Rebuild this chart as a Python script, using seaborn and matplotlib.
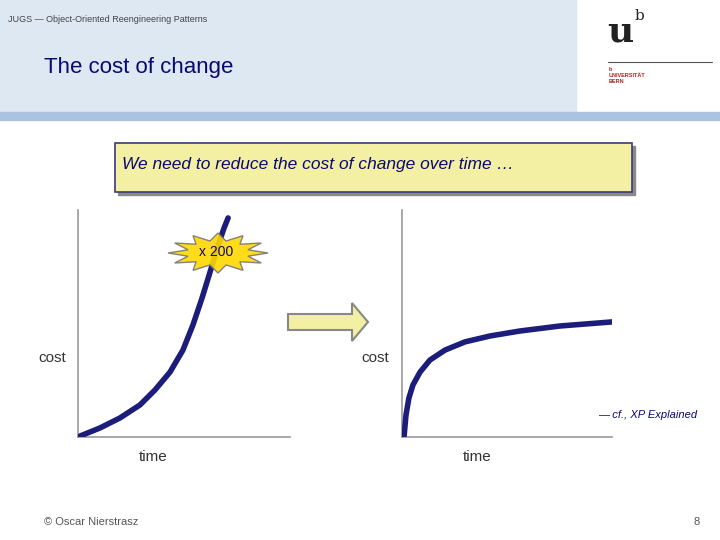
import numpy as np
import matplotlib.pyplot as plt
import seaborn as sns
from matplotlib.patches import Rectangle, Polygon

# left curve: cost explodes over time
left_time = [0.09, 1.04, 1.98, 2.92, 3.63, 4.34, 4.95, 5.42, 5.85, 6.23, 6.60, 6.89, 7.08]
left_cost = [0.4, 4.0, 8.4, 14.1, 20.7, 28.6, 38.3, 49.3, 61.2, 72.7, 84.1, 92.1, 96.5]
# right curve: cost flattens over time
right_time = [0.1, 0.19, 0.33, 0.52, 0.86, 1.33, 2.05, 3.0, 4.19, 5.62, 7.52, 10]
right_cost = [0.4, 9.7, 17.2, 22.9, 28.6, 33.9, 38.3, 41.9, 44.5, 46.7, 48.9, 50.7]

W, H = 720, 540
navy = "#1c1c7a"

sns.set_style("white")
plt.rcParams['font.family'] = ['Liberation Sans', 'DejaVu Sans']

fig = plt.figure(figsize=(7.2, 5.4), dpi=100)

def fx(px):
    return px / W

def fy(py):
    return 1 - py / H

bg = fig.add_axes([0, 0, 1, 1])
bg.set_xlim(0, W)
bg.set_ylim(H, 0)
bg.axis("off")

# header
bg.add_patch(Rectangle((0, 0), 576, 112, color="#dde8f3", zorder=0))
bg.add_patch(Rectangle((0, 112), W, 8, color="#a9c3e0", zorder=0))
bg.text(8, 20, "JUGS — Object-Oriented Reengineering Patterns", fontsize=6.5,
        color="#444444", va="center")
bg.text(44, 67, "The cost of change", fontsize=16, color="#0a0a6e", va="center")

# logo
bg.text(607, 32, "u", fontsize=26, fontweight="bold", family="DejaVu Serif",
        color="#222222", va="center")
bg.text(635, 16, "b", fontsize=11, family="DejaVu Serif", color="#222222", va="center")
bg.plot([608, 712], [62, 62], color="#555555", lw=0.8)
bg.text(609, 67, "b\nUNIVERSITÄT\nBERN", fontsize=4, color="#b22222",
        va="top", linespacing=1.2, fontweight="bold")

# callout box
bg.add_patch(Rectangle((118, 146), 517, 49, color="#8a8a8a", zorder=1))
bg.add_patch(Rectangle((115, 143), 517, 49, facecolor="#f3efa3",
                       edgecolor="#3a3a7a", lw=1.2, zorder=2))
bg.text(122, 164, "We need to reduce the cost of change over time …", fontsize=12.5,
        style="italic", color="#0a0a6e", va="center", zorder=3)

# labels
bg.text(52, 358, "cost", fontsize=11, ha="center", va="center", color="#333333")
bg.text(375, 358, "cost", fontsize=11, ha="center", va="center", color="#333333")
bg.text(153, 457, "time", fontsize=11, ha="center", va="center", color="#333333")
bg.text(477, 457, "time", fontsize=11, ha="center", va="center", color="#333333")
bg.text(697, 415, "— cf., XP Explained", fontsize=8, style="italic", ha="right",
        va="center", color="#0a0a6e")
bg.text(44, 522, "© Oscar Nierstrasz", fontsize=8, va="center", color="#555555")
bg.text(700, 522, "8", fontsize=8, ha="right", va="center", color="#555555")

# arrow
bg.add_patch(Polygon([(288, 314), (352, 314), (352, 303), (368, 322),
                      (352, 341), (352, 330), (288, 330)],
                     closed=True, facecolor="#f3efa3", edgecolor="#888888",
                     lw=1.5, zorder=2))

# charts
for rect_px, t, c in [((78, 210, 290, 437), left_time, left_cost),
                      ((402, 210, 612, 437), right_time, right_cost)]:
    x0, y0, x1, y1 = rect_px
    ax = fig.add_axes([fx(x0), fy(y1), fx(x1 - x0), (y1 - y0) / H])
    sns.lineplot(x=t, y=c, ax=ax, color=navy, lw=4, zorder=5)
    ax.set_xlim(0, 10)
    ax.set_ylim(0, 100)
    ax.set_xticks([])
    ax.set_yticks([])
    ax.patch.set_alpha(0)
    for s in ["top", "right"]:
        ax.spines[s].set_visible(False)
    for s in ["left", "bottom"]:
        ax.spines[s].set_color("#999999")
        ax.spines[s].set_linewidth(1.2)

# starburst
bg2 = fig.add_axes([0, 0, 1, 1])
bg2.set_xlim(0, W)
bg2.set_ylim(H, 0)
bg2.axis("off")
n = 12
ang = np.linspace(0, 2 * np.pi, 2 * n, endpoint=False)
rad = np.where(np.arange(2 * n) % 2 == 0, 1.0, 0.62)
star = np.column_stack([218 + 50 * rad * np.cos(ang), 253 + 20 * rad * np.sin(ang)])
bg2.add_patch(Polygon(star, closed=True, facecolor="#ffd700", edgecolor="#777777",
                      lw=1, alpha=0.9, zorder=6))
bg2.text(216, 252, "x 200", fontsize=10, ha="center", va="center",
         color="#0a0a6e", zorder=7)

fig.savefig("out.png", dpi=100)
